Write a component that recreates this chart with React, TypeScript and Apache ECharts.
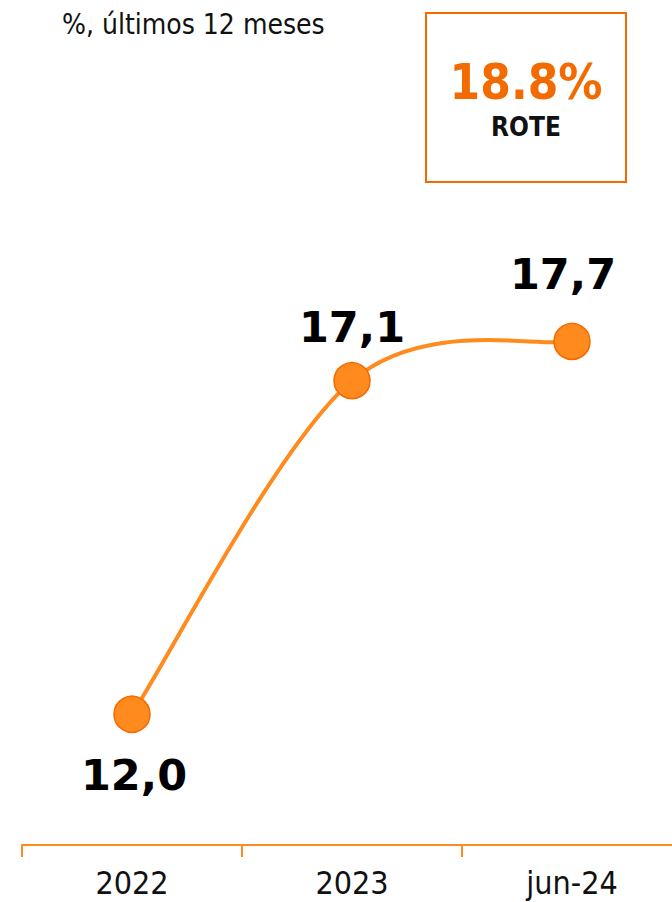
import React, { useEffect, useRef } from "react";
import * as echarts from "echarts";

const categories = ["2022", "2023", "jun-24"];
const values = [12.0, 17.1, 17.7];
const labelTexts = ["12,0", "17,1", "17,7"];
const subtitle = "%, últimos 12 meses";
const kpiValue = "18.8%";
const kpiLabel = "ROTE";

const ORANGE = "#FF8A1E";
const DARK_ORANGE = "#F26A00";
const NARROW = "DejaVu Sans Condensed, DejaVu Sans";

export default function App() {
  const ref = useRef<HTMLDivElement>(null);
  useEffect(() => {
    if (!ref.current) return;
    const chart = echarts.init(ref.current, undefined, { renderer: "svg" });
    const labelPos = [
      { position: "bottom", distance: 21, offset: [2, 0] },
      { position: "top", distance: 13, offset: [0, 0] },
      { position: "top", distance: 27, offset: [-9, 0] },
    ];
    // Catmull-Rom style smooth curve through the data points (computed via axis scales)
    const renderCurve = (params: any, api: any) => {
      if (params.dataIndex !== 0) return null;
      const pts = values.map((v, i) => api.coord([i, v]));
      const children: any[] = [];
      for (let i = 0; i < pts.length - 1; i++) {
        const p0 = pts[i - 1] || pts[i];
        const p1 = pts[i];
        const p2 = pts[i + 1];
        const p3 = pts[i + 2] || pts[i + 1];
        const cp1 = [p1[0] + (p2[0] - p0[0]) / 6, p1[1] + (p2[1] - p0[1]) / 6];
        const cp2 = [p2[0] - (p3[0] - p1[0]) / 6, p2[1] - (p3[1] - p1[1]) / 6];
        children.push({
          type: "bezierCurve",
          shape: {
            x1: p1[0], y1: p1[1], x2: p2[0], y2: p2[1],
            cpx1: cp1[0], cpy1: cp1[1], cpx2: cp2[0], cpy2: cp2[1],
          },
          style: { stroke: ORANGE, lineWidth: 4, fill: null, lineCap: "round" },
        });
      }
      return { type: "group", children };
    };
    chart.setOption({
      animation: false,
      grid: { left: 22, width: 660, top: 191, bottom: 57, outerBoundsMode: "none", containLabel: false },
      xAxis: {
        type: "category",
        data: categories,
        boundaryGap: true,
        axisLine: { lineStyle: { color: ORANGE, width: 2 } },
        axisTick: { show: true, length: 12, lineStyle: { color: ORANGE, width: 2 } },
        axisLabel: {
          color: "#111",
          fontSize: 32,
          fontFamily: NARROW,
          margin: 22,
        },
      },
      yAxis: {
        type: "value",
        min: 10,
        max: 20,
        show: false,
        splitLine: { show: false },
      },
      graphic: [
        {
          type: "text",
          left: 62,
          top: 10,
          style: {
            text: subtitle,
            fontSize: 28,
            fontFamily: NARROW,
            fill: "#111",
          },
        },
        {
          type: "rect",
          shape: { x: 426, y: 13, width: 200, height: 169 },
          style: { fill: "none", stroke: DARK_ORANGE, lineWidth: 2 },
        },
        {
          type: "text",
          x: 526,
          y: 82,
          style: {
            text: kpiValue,
            fontSize: 49,
            fontWeight: "bold",
            fontFamily: NARROW,
            fill: DARK_ORANGE,
            align: "center",
            verticalAlign: "middle",
          },
        },
        {
          type: "text",
          x: 526,
          y: 127,
          style: {
            text: kpiLabel,
            fontSize: 26,
            fontWeight: "bold",
            fontFamily: NARROW,
            fill: "#111",
            align: "center",
            verticalAlign: "middle",
          },
        },
      ],
      series: [
        {
          type: "custom",
          z: 1,
          data: values.map((v, i) => [i, v]),
          encode: { x: 0, y: 1 },
          renderItem: renderCurve,
          silent: true,
        },
        {
          type: "line",
          z: 3,
          data: values.map((v, i) => ({
            value: v,
            label: {
              show: true,
              formatter: labelTexts[i],
              position: labelPos[i].position,
              distance: labelPos[i].distance,
              offset: labelPos[i].offset,
            },
          })),
          symbol: "circle",
          symbolSize: 36,
          lineStyle: { width: 0, opacity: 0 },
          itemStyle: { color: ORANGE, borderColor: DARK_ORANGE, borderWidth: 1.5 },
          label: {
            show: true,
            color: "#000",
            fontSize: 43,
            fontWeight: "bold",
            fontFamily: "DejaVu Sans",
          },
        },
      ],
    });
    return () => chart.dispose();
  }, []);
  return <div ref={ref} style={{ width: 672, height: 902, position: "absolute", left: 0, top: 0 }} />;
}
